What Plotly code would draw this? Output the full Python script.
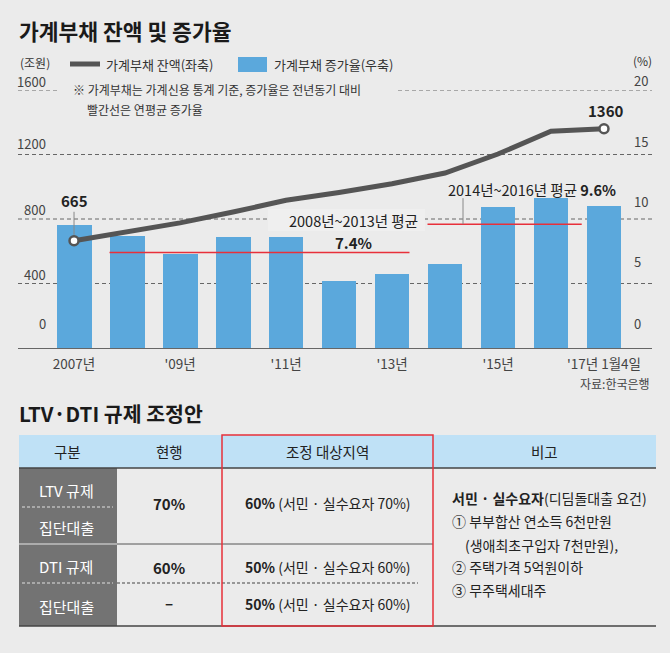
import plotly.graph_objects as go

# ---------------- data ----------------
periods = ['2007', '2008', '2009', '2010', '2011', '2012', '2013', '2014', '2015', '2016', '2017.1Q']
x_tick_idx = [0, 2, 4, 6, 8, 10]
x_tick_labels = ['2007년', "'09년", "'11년", "'13년", "'15년", "'17년 1월4일"]
debt_balance = [665, 723, 776, 843, 916, 964, 1019, 1085, 1203, 1344, 1360]   # 조원 (left axis)
growth_rate = [9.5, 8.7, 7.3, 8.6, 8.6, 5.2, 5.7, 6.5, 10.9, 11.6, 11.0]       # % (right axis)
avg_2008_2013 = 7.4
avg_2014_2016 = 9.6
left_ticks = [0, 400, 800, 1200, 1600]
right_ticks = [0, 5, 10, 15, 20]

table_header = ['구분', '현행', '조정 대상지역', '비고']
row_labels = ['LTV 규제', '집단대출', 'DTI 규제', '집단대출']
current_vals = ['70%', '60%', '–']
adjusted_main = ['60%', '50%', '50%']
adjusted_note = ['(서민 · 실수요자 70%)', '(서민 · 실수요자 60%)', '(서민 · 실수요자 60%)']
remark_head_bold = '서민 · 실수요자'
remark_head_rest = '(디딤돌대출 요건)'
remark_lines = ['① 부부합산 연소득 6천만원', '(생애최초구입자 7천만원),', '② 주택가격 5억원이하', '③ 무주택세대주']

# ---------------- style ----------------
W, H = 670, 653
FONT = 'Noto Sans CJK KR'
BG = '#ebebeb'
BAR = '#5ba8dc'
LINE = '#555555'
RED = '#e8303a'
TXT = '#333333'


def px(x):
    return x / W


def py(y):
    return 1 - y / H


def txt(x, y, s, size=13, color=TXT, anchor='left'):
    return dict(x=px(x), y=py(y), xref='paper', yref='paper', text=s, showarrow=False,
                xanchor=anchor, yanchor='middle', font=dict(size=size, color=color, family=FONT))


def pline(x0, y0, x1, y1, color, width=1, dash='solid', layer='above'):
    return dict(type='line', xref='paper', yref='paper', x0=px(x0), y0=py(y0), x1=px(x1), y1=py(y1),
                line=dict(color=color, width=width, dash=dash), layer=layer)


def prect(x0, y0, x1, y1, fill, lc=None, lw=0, layer='below'):
    return dict(type='rect', xref='paper', yref='paper', x0=px(x0), y0=py(y0), x1=px(x1), y1=py(y1),
                fillcolor=fill, line=dict(color=lc or fill, width=lw), layer=layer)


xs = list(range(len(periods)))

fig = go.Figure()
fig.add_trace(go.Bar(x=xs, y=growth_rate, marker=dict(color=BAR, line=dict(width=0)), width=0.66,
                     yaxis='y', showlegend=False, hoverinfo='skip'))
fig.add_trace(go.Scatter(x=xs, y=debt_balance, mode='lines', line=dict(color=LINE, width=5),
                         yaxis='y2', showlegend=False, hoverinfo='skip'))
fig.add_trace(go.Scatter(x=[xs[0], xs[-1]], y=[debt_balance[0], debt_balance[-1]], mode='markers',
                         marker=dict(size=9, color='white', line=dict(color=LINE, width=2.5)),
                         yaxis='y2', showlegend=False, hoverinfo='skip', cliponaxis=False))

shapes = []
annotations = []

# gridlines (dashed), one per left tick above zero
GD = '4px,3px'
GC = '#666666'
for v in left_ticks[1:]:
    if v == left_ticks[-1]:
        segs = [(18, 60), (398, 652)]
    else:
        segs = [(18, 652)]
    for a, b in segs:
        shapes.append(dict(type='line', xref='paper', yref='y2', x0=px(a), x1=px(b), y0=v, y1=v,
                           line=dict(color=GC, width=1, dash=GD), layer='below'))
# light label box behind 2008~2013 label
shapes.append(prect(268, 209, 425, 231, '#efefef'))

# red average lines
shapes.append(dict(type='line', xref='x', yref='y', x0=1 - 0.33, x1=6 + 0.33, y0=avg_2008_2013, y1=avg_2008_2013,
                   line=dict(color=RED, width=1.5), layer='above'))
shapes.append(dict(type='line', xref='x', yref='y', x0=7 - 0.33, x1=9.58, y0=avg_2014_2016, y1=avg_2014_2016,
                   line=dict(color=RED, width=1.5), layer='above'))
# leader lines
shapes.append(dict(type='line', xref='x', yref='y', x0=7.34, x1=7.34, ysizemode='pixel', yanchor=avg_2014_2016,
                   y0=0, y1=26, line=dict(color='#888888', width=1), layer='above'))
shapes.append(dict(type='line', xref='x', yref='y2', x0=0, x1=0, ysizemode='pixel', yanchor=debt_balance[0],
                   y0=6, y1=29, line=dict(color='#888888', width=1), layer='above'))

# axis tick labels
left_shift = [25, 9, 10, 11, 9]
right_shift = [25, 22, 18, 13, 10]
for v, s in zip(left_ticks, left_shift):
    annotations.append(dict(x=px(48), xref='paper', y=v, yref='y2', yshift=s, text=str(v), showarrow=False,
                            xanchor='right', yanchor='middle', font=dict(size=13, color='#444', family=FONT)))
for v, s in zip(right_ticks, right_shift):
    annotations.append(dict(x=px(632), xref='paper', y=v, yref='y', yshift=s, text=str(v), showarrow=False,
                            xanchor='left', yanchor='middle', font=dict(size=13, color='#444', family=FONT)))

# value labels
annotations.append(dict(x=xs[0], y=debt_balance[0], xref='x', yref='y2', yshift=40, text='<b>%d</b>' % debt_balance[0],
                        showarrow=False, font=dict(size=15, color='#222', family=FONT)))
annotations.append(dict(x=xs[-1], y=debt_balance[-1], xref='x', yref='y2', yshift=18, xshift=2,
                        text='<b>%d</b>' % debt_balance[-1], showarrow=False,
                        font=dict(size=15, color='#222', family=FONT)))
annotations.append(txt(353, 220, '2008년~2013년 평균', 14.5, '#222', 'center'))
annotations.append(txt(353, 242, '<b>%.1f%%</b>' % avg_2008_2013, 15, '#222', 'center'))
annotations.append(txt(532, 189, '2014년~2016년 평균 <b>%.1f%%</b>' % avg_2014_2016, 14.5, '#222', 'center'))

# title, legend, notes
annotations.append(txt(17, 30, '<b>가계부채 잔액 및 증가율</b>', 21.5, '#1a1a1a'))
annotations.append(txt(18, 62, '(조원)', 12))
shapes.append(pline(70, 64, 100, 64, LINE, 5))
annotations.append(txt(104, 64, '가계부채 잔액(좌축)', 13))
shapes.append(prect(238, 57, 267, 72, BAR, layer='above'))
annotations.append(txt(272, 64, '가계부채 증가율(우축)', 13))
annotations.append(txt(631, 60, '(%)', 12))
annotations.append(txt(71, 89, '※ 가계부채는 가계신용 통계 기준, 증가율은 전년동기 대비', 12))
annotations.append(txt(85, 110, '빨간선은 연평균 증가율', 12))
annotations.append(txt(652, 383, '자료:한국은행', 12, '#444', 'right'))

# ---------------- table ----------------
TL, TR = 19, 656
C1, C2, C3 = 117, 222, 433
HT, HB = 435, 468
R1, R2, TB = 544, 583, 626
annotations.append(txt(17, 413, '<b>LTV·DTI 규제 조정안</b>', 20.5, '#1a1a1a'))
shapes.append(prect(TL, HT, TR, HB, '#bfe1f6'))
shapes.append(prect(TL, HB, C1, TB, '#737373'))
shapes.append(pline(TL, R1, C1, R1, '#e6e6e6', 1.2))
shapes.append(pline(22, 507, 113, 507, '#e0e0e0', 1, '3px,2px'))
shapes.append(pline(22, R2, 113, R2, '#e0e0e0', 1, '3px,2px'))
shapes.append(pline(C1, R2, 418, R2, '#444444', 1.2, '3px,2px'))
shapes.append(pline(C1, R1, C3, R1, '#555555', 1))
shapes.append(pline(TL, HB, TR, HB, '#444444', 1.5))
shapes.append(pline(TL, TB, TR, TB, '#444444', 1.5))
shapes.append(dict(type='rect', xref='paper', yref='paper', x0=px(C2), x1=px(C3), y0=py(TB), y1=py(HT),
                   fillcolor='rgba(0,0,0,0)', line=dict(color=RED, width=1.5), layer='above'))

hdr_x = [67, 169.5, 327.5, 544.5]
for hx, h in zip(hdr_x, table_header):
    annotations.append(txt(hx, 451, h, 14.5, '#222', 'center'))
for ry, r in zip([490, 527, 566, 606], row_labels):
    annotations.append(txt(66, ry, r, 15, 'white', 'center'))
for ry, v in zip([503, 567, 602], current_vals):
    annotations.append(txt(169.5, ry, '<b>%s</b>' % v, 15, '#222', 'center'))
for ry, m, n in zip([503, 567, 604], adjusted_main, adjusted_note):
    annotations.append(txt(328, ry, '<b>%s</b> %s' % (m, n), 14, '#222', 'center'))
annotations.append(txt(450, 498, '<b>%s</b>%s' % (remark_head_bold, remark_head_rest), 14, '#222'))
for (rx, ry), line in zip([(450, 521), (463, 545), (450, 567), (450, 590)], remark_lines):
    annotations.append(txt(rx, ry, line, 14, '#222'))

fig.update_layout(
    width=W, height=H, autosize=False,
    margin=dict(l=0, r=0, t=0, b=0),
    paper_bgcolor=BG, plot_bgcolor='rgba(0,0,0,0)',
    font=dict(family=FONT, color=TXT),
    bargap=0,
    xaxis=dict(domain=[px(18), px(652)], range=[-1.057, 10.906], tickvals=x_tick_idx, ticktext=x_tick_labels,
               tickfont=dict(size=13.5, color='#444', family=FONT), showline=True, linecolor='#666666',
               linewidth=1, ticks='', ticklabelstandoff=4, showgrid=False, zeroline=False, fixedrange=True),
    yaxis=dict(domain=[py(348), py(90)], range=[0, 20], visible=False, fixedrange=True),
    yaxis2=dict(domain=[py(348), py(90)], range=[0, 1600], overlaying='y', side='left', visible=False,
                fixedrange=True),
    shapes=shapes,
    annotations=annotations,
)

fig.write_html('out.html', config={'displayModeBar': False},
               post_script="document.body.style.margin='0px';document.body.style.overflow='hidden';")
